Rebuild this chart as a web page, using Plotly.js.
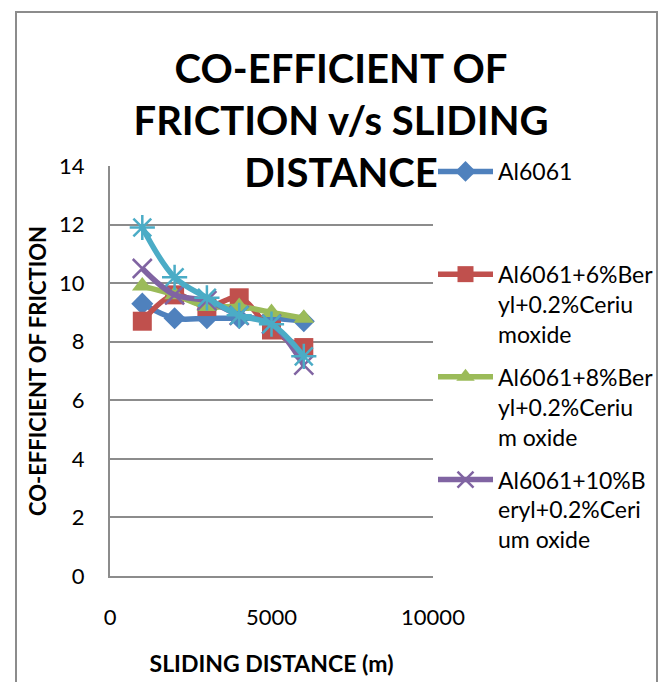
<!DOCTYPE html>
<html>
<head>
<meta charset="utf-8">
<script src="https://cdn.plot.ly/plotly-3.0.1.min.js"></script>
<style>
  html, body { margin: 0; padding: 0; background: #ffffff; }
  #chart { position: absolute; left: 0; top: 0; width: 667px; height: 682px; }
  #frame { position: absolute; left: 15px; top: 11px; width: 643px; height: 720px;
           border: 2px solid #8c8c8c; pointer-events: none; box-sizing: border-box; }
</style>
</head>
<body>
<div id="chart"></div>
<div id="frame"></div>
<script>
// Sliding distance (m)
const slidingDistance = [1000, 2000, 3000, 4000, 5000, 6000];

// Co-efficient of friction per composition
const al6061          = [9.3, 8.8, 8.8, 8.8, 8.8, 8.7];
const al6061Beryl6    = [8.7, 9.6, 9.2, 9.5, 8.4, 7.8];
const al6061Beryl8    = [9.9, 9.6, 9.2, 9.2, 9.0, 8.8];
const al6061Beryl10   = [10.5, 9.6, 9.4, 8.9, 8.6, 7.2];
const al6061Beryl12   = [11.9, 10.2, 9.5, 8.9, 8.6, 7.5];

// Legend labels (as wrapped in the reference)
const seriesNames = [
  'Al6061<br>\u00a0<br>\u00a0',
  'Al6061+6%Ber<br>yl+0.2%Ceriu<br>moxide',
  'Al6061+8%Ber<br>yl+0.2%Ceriu<br>m oxide',
  'Al6061+10%B<br>eryl+0.2%Ceri<br>um oxide',
  'Al6061+12%Beryl+0.2%Cerium oxide'
];

const FONT = 'Lato, "Open Sans", sans-serif';

const seriesValues = [al6061, al6061Beryl6, al6061Beryl8, al6061Beryl10, al6061Beryl12];
const colors  = ['#4F81BD', '#C0504D', '#9BBB59', '#8064A2', '#4BACC6'];
const symbols = ['diamond', 'square', 'triangle-up', 'x-thin-open', 'asterisk-open'];
const sizes   = [17, 19, 18, 19, 21];

const traces = seriesValues.map((vals, i) => ({
  type: 'scatter',
  mode: 'lines+markers',
  x: slidingDistance,
  y: vals,
  name: seriesNames[i],
  legendgroup: 'g' + i,
  showlegend: i < 4,
  line: { color: colors[i], width: 5.5, shape: 'spline', smoothing: 1 },
  marker: {
    symbol: symbols[i],
    size: sizes[i],
    color: colors[i],
    line: { color: colors[i], width: (i >= 3 ? 2.5 : 0) }
  }
}));

const layout = {
  width: 667,
  height: 682,
  paper_bgcolor: 'rgba(0,0,0,0)',
  plot_bgcolor: 'rgba(0,0,0,0)',
  margin: { l: 110, r: 234, t: 166, b: 106 },
  font: { family: FONT, size: 22, color: '#000000' },
  title: {
    text: 'CO-EFFICIENT OF<br>FRICTION v/s SLIDING<br>DISTANCE',
    font: { family: FONT, size: 40, weight: 700, color: '#000000' },
    xref: 'container', yref: 'container',
    x: 341 / 667, xanchor: 'center',
    y: 1 - 83 / 682, yanchor: 'top'
  },
  xaxis: {
    range: [0, 10000],
    tickvals: [0, 5000, 10000],
    ticktext: ['0', '5000', '10000'],
    showgrid: false,
    zeroline: false,
    showline: true,
    linecolor: '#8c8c8c',
    linewidth: 2,
    ticks: '',
    ticklabelstandoff: 21,
    tickfont: { family: FONT, size: 22, color: '#000000' },
    title: {
      text: 'SLIDING DISTANCE (m)',
      font: { family: FONT, size: 23, weight: 700, color: '#000000' },
      standoff: 26
    }
  },
  yaxis: {
    range: [0, 14],
    dtick: 2,
    showgrid: true,
    gridcolor: '#8c8c8c',
    gridwidth: 2,
    zeroline: false,
    showline: true,
    linecolor: '#8c8c8c',
    linewidth: 2,
    ticks: '',
    ticklabelstandoff: 19,
    tickfont: { family: FONT, size: 22, color: '#000000' },
    title: {
      text: 'CO-EFFICIENT OF FRICTION',
      font: { family: FONT, size: 22, weight: 700, color: '#000000' },
      standoff: 6
    }
  },
  legend: {
    x: 433 / 667, xref: 'container', xanchor: 'left',
    y: 1 - 150 / 682, yref: 'container', yanchor: 'top',
    bgcolor: 'rgba(0,0,0,0)',
    borderwidth: 0,
    font: { family: FONT, size: 23, color: '#000000' },
    valign: 'top',
    traceorder: 'grouped',
    tracegroupgap: 10,
    itemwidth: 55,
    maxheight: 640
  },
  showlegend: true
};

Plotly.newPlot('chart', traces, layout, { displayModeBar: false, staticPlot: true });
</script>
</body>
</html>
